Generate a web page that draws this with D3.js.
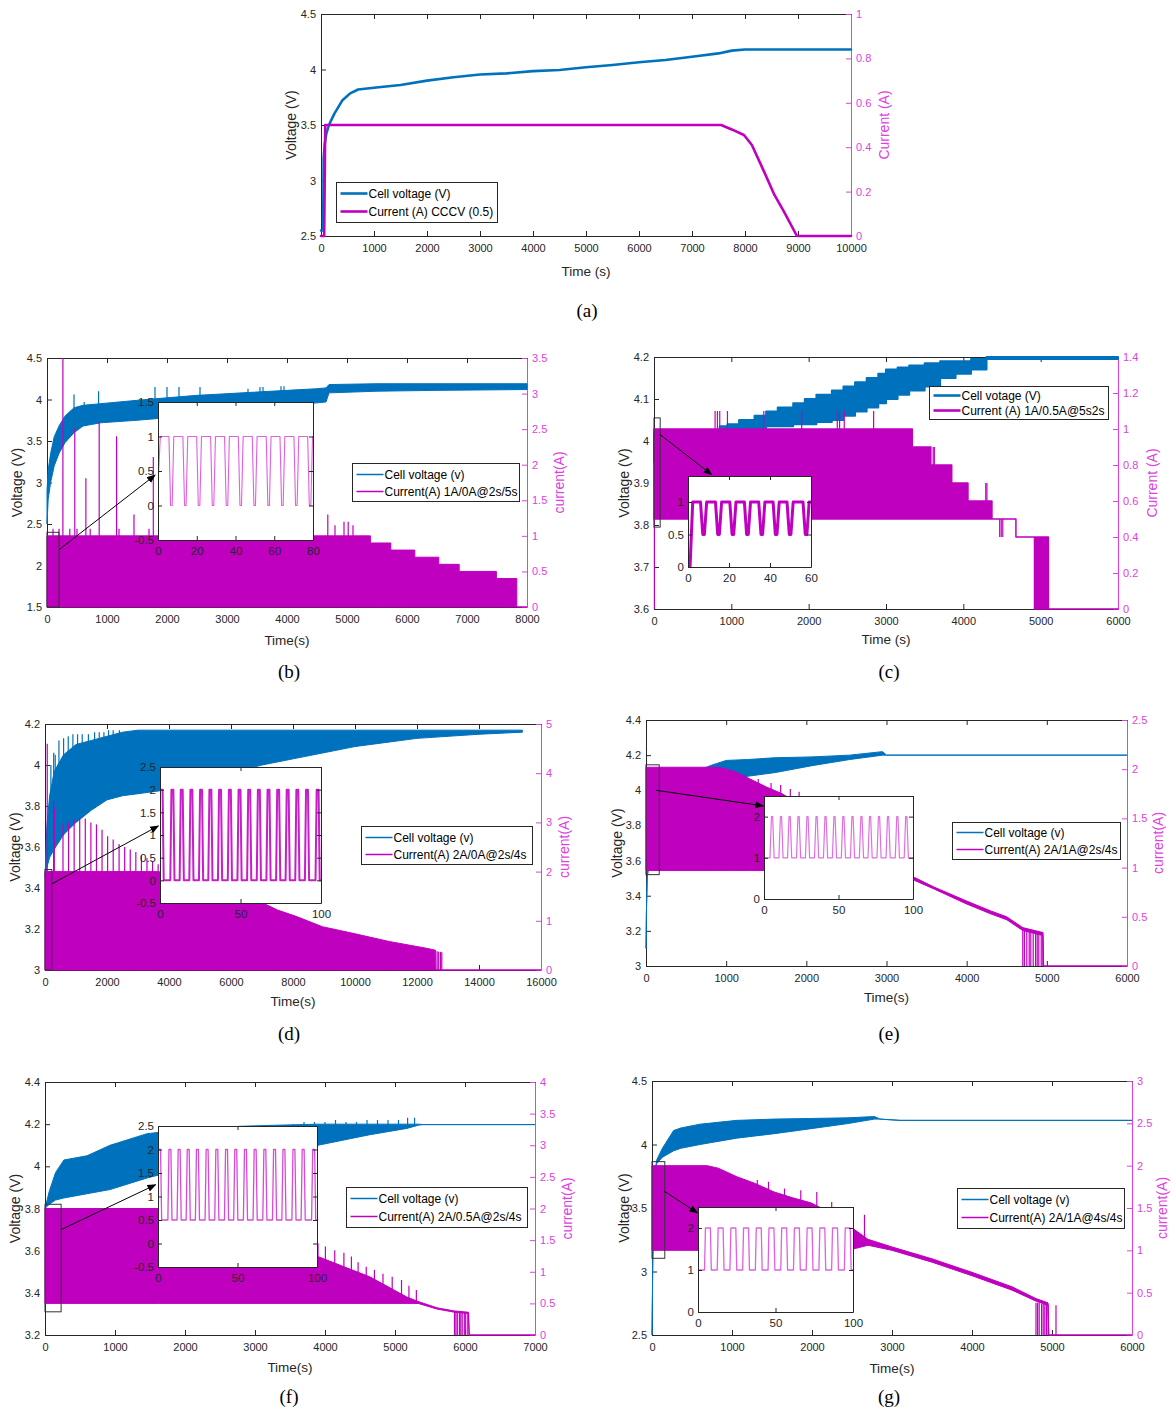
<!DOCTYPE html>
<html>
<head>
<meta charset="utf-8">
<script src="https://cdn.jsdelivr.net/npm/d3@7"></script>
<style>
  body { margin: 0; background: #fff; }
</style>
</head>
<body>
<svg id="fig" width="1171" height="1414"></svg>
<script>
// ---------- (a) CCCV 0.5 A ----------
const aVoltT = [0, 40, 50, 70, 100, 150, 250, 400, 550, 700, 1000, 1500, 2000, 2500, 3000, 3500, 4000, 4500, 5000, 5500, 6000, 6500, 7000, 7500, 7750, 8000, 10000];
const aVolt = [2.55, 2.55, 3.2, 3.33, 3.42, 3.5, 3.6, 3.72, 3.785, 3.82, 3.835, 3.86, 3.9, 3.93, 3.955, 3.965, 3.985, 3.995, 4.02, 4.04, 4.065, 4.085, 4.115, 4.145, 4.17, 4.18, 4.18];
const aCurT = [0, 60, 80, 7550, 7750, 7980, 8130, 8360, 8545, 8735, 8980, 10000];
const aCur = [0, 0, 0.5, 0.5, 0.48, 0.455, 0.41, 0.29, 0.19, 0.11, 0, 0];

// ---------- (b) 1A/0A ----------
const bVoltT = [0, 20, 60, 120, 200, 300, 450, 600, 900, 1500, 2000, 2500, 3000, 3500, 4000, 4500, 4650, 4700, 5500, 6500, 8000];
const bVoltHi = [2.9, 3.15, 3.35, 3.55, 3.68, 3.8, 3.9, 3.93, 3.95, 3.99, 4.02, 4.05, 4.07, 4.09, 4.11, 4.13, 4.14, 4.18, 4.19, 4.19, 4.19];
const bVoltLo = [2.5, 2.8, 3.0, 3.2, 3.35, 3.48, 3.6, 3.68, 3.72, 3.75, 3.78, 3.82, 3.86, 3.9, 3.93, 3.96, 3.97, 4.08, 4.1, 4.11, 4.12];
const bVoltSpikeT = [450, 620, 860, 1800, 2000, 2200, 2550, 3350, 3550, 3600, 3900, 3950];
const bVoltSpikeV = [4.06, 3.97, 4.1, 4.15, 4.15, 4.15, 4.15, 4.13, 4.15, 4.15, 4.16, 4.16];
const bCurT = [0, 5390, 5730, 6130, 6530, 6870, 7490, 7830, 8000];
const bCurHi = [1, 0.9, 0.8, 0.7, 0.6, 0.5, 0.4, 0, 0];
const bCurLo = [0, 0, 0, 0, 0, 0, 0, 0, 0];
const bCurSpikeT = [100, 200, 265, 380, 463, 500, 648, 720, 870, 1160, 1200, 1450, 1700, 1772, 2100, 2300, 2600, 4680, 4800, 4950, 5020, 5100];
const bCurSpikeV = [1.1, 1.1, 3.5, 1.1, 2.51, 1.1, 1.81, 1.1, 2.6, 2.4, 1.1, 1.3, 1.1, 2.11, 1.1, 1.1, 1.2, 1.3, 1.15, 1.2, 1.2, 1.15];
const bInsetDips = [6.9, 14.1, 21.2, 28.4, 35.6, 42.7, 49.9, 57.1, 64.2, 71.4, 78.5];
const bInsetLead = [[0, 0.3], [1.2, 1]];

// ---------- (c) 1A/0.5A ----------
const cVoltT = [0, 850, 950, 1100, 1300, 1450, 1600, 1800, 1950, 2100, 2300, 2450, 2600, 2750, 2900, 3000, 3150, 3300, 3500, 3700, 3900, 4100, 4300, 6000];
const cVoltHi = [4.02, 4.035, 4.04, 4.05, 4.06, 4.07, 4.08, 4.09, 4.1, 4.11, 4.12, 4.13, 4.14, 4.15, 4.16, 4.17, 4.175, 4.18, 4.185, 4.19, 4.19, 4.195, 4.2, 4.195];
const cVoltLo = [3.95, 4.03, 4.03, 4.03, 4.03, 4.035, 4.035, 4.04, 4.04, 4.045, 4.05, 4.06, 4.07, 4.08, 4.09, 4.1, 4.11, 4.12, 4.13, 4.15, 4.16, 4.17, 4.195, 4.195];
const cCurT = [0, 3340, 3580, 3850, 4060, 4370, 4680, 4920, 5100, 6000];
const cCurHi = [1, 0.9, 0.8, 0.7, 0.6, 0.5, 0.4, 0.4, 0, 0];
const cCurLo = [0.5, 0.5, 0.5, 0.5, 0.5, 0.5, 0.4, 0, 0, 0];
const cCurSpikeT = [5, 790, 820, 850, 950, 1420, 1910, 2370, 2400, 2460, 2840, 3610, 3625, 4290, 4305, 4470, 4490, 4510];
const cCurSpikeV = [0, 1.1, 1.1, 1.1, 1.1, 1.1, 1.1, 1.1, 1.1, 1.1, 1.1, 0.9, 0.9, 0.7, 0.7, 0.4, 0.4, 0.4];
const cInsetDips = [7.6, 14.9, 21.9, 29.0, 36.0, 43.0, 49.8, 57.6];
const cInsetLead = [[0, 0], [1, 0], [2.3, 1]];

// ---------- (d) 2A/0A ----------
const dVoltT = [0, 60, 150, 300, 600, 1000, 1500, 2000, 2500, 3000, 4000, 5000, 6000, 7000, 8000, 9000, 10000, 11000, 12000, 13000, 14000, 15400];
const dVoltHi = [3.45, 3.7, 3.85, 3.97, 4.05, 4.1, 4.12, 4.14, 4.16, 4.17, 4.17, 4.17, 4.17, 4.17, 4.17, 4.17, 4.17, 4.17, 4.17, 4.17, 4.17, 4.17];
const dVoltLo = [3.45, 3.5, 3.55, 3.59, 3.66, 3.72, 3.78, 3.83, 3.85, 3.86, 3.88, 3.92, 3.96, 4.0, 4.03, 4.06, 4.09, 4.11, 4.13, 4.14, 4.15, 4.16];
const dVoltSpikeT = [190, 280, 330, 450, 600, 750, 900, 1050, 1200, 1400, 1600, 1750, 1900, 2050, 2200, 2400];
const dVoltSpikeV = [4.0, 4.06, 4.05, 4.12, 4.13, 4.14, 4.15, 4.15, 4.15, 4.15, 4.16, 4.16, 4.16, 4.17, 4.17, 4.17];
const dCurT = [0, 3650, 4500, 5700, 6900, 7500, 8100, 8950, 9900, 11100, 12320, 12600, 12610, 16000];
const dCurHi = [2.0, 2.0, 1.9, 1.65, 1.4, 1.22, 1.09, 0.88, 0.75, 0.58, 0.44, 0.4, 0, 0];
const dCurLo = [0, 0, 0, 0, 0, 0, 0, 0, 0, 0, 0, 0, 0, 0];
const dCurSpikeT = [72, 277, 300, 580, 760, 940, 1120, 1300, 1480, 1660, 1840, 2020, 2200, 2390, 2570, 2750, 2930, 3110, 3290, 3470, 3650];
const dCurSpikeV = [4.6, 3.44, 3.3, 2.97, 3.0, 3.06, 3.1, 3.08, 3.0, 2.96, 2.85, 2.72, 2.65, 2.56, 2.5, 2.45, 2.4, 2.33, 2.27, 2.2, 2.15];
const dEndT = [12650, 12700, 12760, 12800];
const dEndV = [0.38, 0.37, 0.37, 0.36];
const dInsetPeaks = [7.7, 13.5, 19.5, 25.5, 31.3, 37.3, 43.4, 49.4, 55.4, 61.4, 67.4, 73.4, 79.3, 85.3, 91.3, 97.9];
const dInsetLead = [[0, 2], [1.6, 2], [2.3, 0]];

// ---------- (e) 2A/1A ----------
const eVoltT = [0, 5, 15, 30, 100, 300, 600, 800, 1000, 1270, 1600, 2070, 2540, 2950, 3000, 3050, 6000];
const eVoltHi = [3.1, 3.3, 3.5, 3.6, 3.8, 3.95, 4.1, 4.14, 4.17, 4.175, 4.185, 4.19, 4.2, 4.22, 4.2, 4.2, 4.2];
const eVoltLo = [3.1, 3.3, 3.5, 3.55, 3.6, 3.7, 3.9, 4.0, 4.05, 4.08, 4.1, 4.14, 4.175, 4.2, 4.2, 4.2, 4.2];
const eCurT = [0, 900, 1100, 1300, 1500, 1700, 2000, 2400, 2800, 3100, 3350, 3600, 4000, 4300, 4500, 4700, 4950, 4960, 6000];
const eCurHi = [2.02, 2.02, 1.98, 1.9, 1.82, 1.75, 1.6, 1.35, 1.1, 0.95, 0.9, 0.8, 0.66, 0.56, 0.5, 0.39, 0.34, 0, 0];
const eCurLo = [0.97, 0.97, 0.97, 0.97, 0.97, 0.97, 0.97, 0.97, 0.97, 0.92, 0.87, 0.78, 0.63, 0.53, 0.47, 0.36, 0.31, 0, 0];
const eCurSpikeT = [1240, 1400, 1560, 1680, 1800, 1910];
const eCurSpikeV = [1.95, 1.9, 1.86, 1.84, 1.8, 1.77];
const eEndT = [4700, 4720, 4750, 4780, 4800, 4830, 4860, 4880, 4900, 4930, 4950];
const eEndV = [0.36, 0.36, 0.35, 0.35, 0.35, 0.34, 0.34, 0.34, 0.34, 0.34, 0.34];
const eInsetPeaks = [5.4, 11.4, 17.2, 23.2, 29.2, 35.3, 41.3, 47.3, 53.3, 59.4, 65.4, 71.2, 77.2, 83.3, 89.5, 95.5];
const eInsetLead = [[0, 1]];

// ---------- (f) 2A/0.5A ----------
const fVoltT = [0, 60, 150, 270, 600, 930, 1460, 2000, 2800, 3300, 3900, 4640, 5170, 5330, 5400, 7000];
const fVoltHi = [3.8, 3.88, 3.97, 4.03, 4.05, 4.1, 4.155, 4.175, 4.19, 4.195, 4.2, 4.2, 4.2, 4.2, 4.198, 4.198];
const fVoltLo = [3.8, 3.82, 3.84, 3.85, 3.87, 3.89, 3.945, 3.99, 4.04, 4.07, 4.1, 4.15, 4.18, 4.195, 4.198, 4.198];
const fVoltSpikeT = [3550, 3700, 3850, 4000, 4150, 4300, 4450, 4600, 4750, 4900, 5050, 5180, 5280];
const fVoltSpikeV = [4.2, 4.21, 4.21, 4.21, 4.22, 4.21, 4.21, 4.22, 4.22, 4.22, 4.22, 4.23, 4.23];
const fCurT = [0, 1620, 2500, 3300, 3900, 4640, 5170, 5330, 5600, 5850, 6050, 6060, 7000];
const fCurHi = [2.0, 2.0, 1.75, 1.45, 1.24, 0.92, 0.6, 0.53, 0.43, 0.38, 0.36, 0, 0];
const fCurLo = [0.5, 0.5, 0.5, 0.5, 0.5, 0.5, 0.5, 0.5, 0.41, 0.36, 0.34, 0, 0];
const fCurSpikeT = [3900, 4006, 4139, 4270, 4377, 4473, 4589, 4706, 4828, 4960, 5093, 5199, 5305];
const fCurSpikeV = [1.45, 1.4, 1.34, 1.3, 1.24, 1.15, 1.08, 1.03, 0.97, 0.92, 0.87, 0.78, 0.71];
const fEndT = [5850, 5870, 5890, 5920, 5940, 5960, 5990, 6010, 6040];
const fEndV = [0.37, 0.37, 0.37, 0.36, 0.36, 0.36, 0.36, 0.36, 0.35];
const fInsetPeaks = [7.5, 13.3, 19.0, 24.8, 30.9, 37.0, 43.1, 48.9, 55.0, 61.1, 67.2, 73.3, 79.2, 85.5, 91.3, 97.9];
const fInsetLead = [[0, 2], [1.6, 2], [2.3, 0.5]];

// ---------- (g) 2A/1A 4s/4s ----------
const gVoltT = [0, 10, 40, 60, 130, 270, 360, 600, 1060, 1525, 1990, 2450, 2780, 2850, 3100, 6000];
const gVoltHi = [2.5, 3.1, 3.8, 3.88, 3.97, 4.11, 4.13, 4.16, 4.19, 4.2, 4.205, 4.21, 4.22, 4.2, 4.19, 4.19];
const gVoltLo = [2.5, 3.1, 3.8, 3.85, 3.9, 3.95, 3.97, 4.0, 4.05, 4.085, 4.125, 4.165, 4.2, 4.2, 4.19, 4.19];
const gCurT = [0, 690, 830, 1060, 1290, 1525, 1760, 1990, 2220, 2450, 2700, 3000, 3500, 4000, 4500, 4800, 4950, 4960, 6000];
const gCurHi = [2.0, 2.0, 1.97, 1.87, 1.79, 1.69, 1.62, 1.56, 1.45, 1.3, 1.13, 1.04, 0.9, 0.74, 0.57, 0.43, 0.38, 0, 0];
const gCurLo = [1.0, 1.0, 1.0, 1.0, 1.0, 1.0, 1.0, 1.0, 1.0, 1.0, 1.06, 1.0, 0.86, 0.7, 0.53, 0.4, 0.35, 0, 0];
const gCurSpikeT = [1316, 1456, 1656, 1860, 2060, 2246, 2656];
const gCurSpikeV = [1.83, 1.81, 1.73, 1.71, 1.69, 1.57, 1.42];
const gEndT = [4800, 4820, 4840, 4870, 4890, 4910, 4930, 4950, 5050];
const gEndV = [0.38, 0.38, 0.38, 0.37, 0.37, 0.37, 0.37, 0.37, 0.35];
const gInsetPeaks = [6.4, 14.6, 22.8, 31.0, 39.2, 47.4, 55.6, 63.8, 72.0, 80.2, 88.4, 96.6];
const gInsetLead = [[0, 1]];

// ---------- ticks and texts ----------
const aTimeTicks = [0, 1000, 2000, 3000, 4000, 5000, 6000, 7000, 8000, 9000, 10000];
const aVoltTicks = [2.5, 3, 3.5, 4, 4.5];
const aCurTicks = [0, 0.2, 0.4, 0.6, 0.8, 1];
const bTimeTicks = [0, 1000, 2000, 3000, 4000, 5000, 6000, 7000, 8000];
const bVoltTicks = [1.5, 2, 2.5, 3, 3.5, 4, 4.5];
const bCurTicks = [0, 0.5, 1, 1.5, 2, 2.5, 3, 3.5];
const cTimeTicks = [0, 1000, 2000, 3000, 4000, 5000, 6000];
const cVoltTicks = [3.6, 3.7, 3.8, 3.9, 4, 4.1, 4.2];
const cCurTicks = [0, 0.2, 0.4, 0.6, 0.8, 1, 1.2, 1.4];
const dTimeTicks = [0, 2000, 4000, 6000, 8000, 10000, 12000, 14000, 16000];
const dVoltTicks = [3, 3.2, 3.4, 3.6, 3.8, 4, 4.2];
const dCurTicks = [0, 1, 2, 3, 4, 5];
const eTimeTicks = [0, 1000, 2000, 3000, 4000, 5000, 6000];
const eVoltTicks = [3, 3.2, 3.4, 3.6, 3.8, 4, 4.2, 4.4];
const eCurTicks = [0, 0.5, 1, 1.5, 2, 2.5];
const fTimeTicks = [0, 1000, 2000, 3000, 4000, 5000, 6000, 7000];
const fVoltTicks = [3.2, 3.4, 3.6, 3.8, 4, 4.2, 4.4];
const fCurTicks = [0, 0.5, 1, 1.5, 2, 2.5, 3, 3.5, 4];
const gTimeTicks = [0, 1000, 2000, 3000, 4000, 5000, 6000];
const gVoltTicks = [2.5, 3, 3.5, 4, 4.5];
const gCurTicks = [0, 0.5, 1, 1.5, 2, 2.5, 3];

const aLegend = ['Cell voltage (V)', 'Current (A) CCCV (0.5)'];
const bLegend = ['Cell voltage (v)', 'Current(A) 1A/0A@2s/5s'];
const cLegend = ['Cell votage (V)', 'Current (A) 1A/0.5A@5s2s'];
const dLegend = ['Cell voltage (v)', 'Current(A) 2A/0A@2s/4s'];
const eLegend = ['Cell voltage (v)', 'Current(A) 2A/1A@2s/4s'];
const fLegend = ['Cell voltage (v)', 'Current(A) 2A/0.5A@2s/4s'];
const gLegend = ['Cell voltage (v)', 'Current(A) 2A/1A@4s/4s'];

// ---------- styling ----------
const FONT = '"Liberation Sans", Arial, sans-serif';
const BLUE = '#0072BD';
const MAG = '#BF00BF';
const RAXIS = '#E040E0';
const INK = '#262626';
const fmt = v => String(+v.toFixed(3));

const svg = d3.select('#fig');
const defs = svg.append('defs');
defs.append('marker')
    .attr('id', 'arrowhead')
    .attr('viewBox', '0 0 10 10')
    .attr('refX', 9).attr('refY', 5)
    .attr('markerWidth', 9).attr('markerHeight', 9)
    .attr('orient', 'auto')
  .append('path')
    .attr('d', 'M0,1 L10,5 L0,9 Z')
    .attr('fill', '#000');

const panels = [
  { id: 'a', box: [321, 14, 851, 236], xDomain: [0, 10000], vDomain: [2.5, 4.5], iDomain: [0, 1],
    ticks: [aTimeTicks, aVoltTicks, aCurTicks],
    volt: { t: aVoltT, hi: aVolt, lo: aVolt, width: 2.6 },
    cur: { t: aCurT, hi: aCur, lo: aCur, width: 2.6 },
    text: { x: 'Time (s)', v: 'Voltage (V)', i: 'Current (A)', vx: 291, ix: 884, xy: 271, tag: '(a)', tx: 587, ty: 310 },
    legend: { x: 336, y: 182, w: 161, h: 40, labels: aLegend, lw: 2.6 } },
  { id: 'b', box: [47, 358, 527, 607], xDomain: [0, 8000], vDomain: [1.5, 4.5], iDomain: [0, 3.5],
    ticks: [bTimeTicks, bVoltTicks, bCurTicks],
    volt: { t: bVoltT, hi: bVoltHi, lo: bVoltLo, width: 1, spikeT: bVoltSpikeT, spikeV: bVoltSpikeV },
    cur: { t: bCurT, hi: bCurHi, lo: bCurLo, width: 1, step: true, spikeT: bCurSpikeT, spikeV: bCurSpikeV },
    text: { x: 'Time(s)', v: 'Voltage (V)', i: 'current(A)', vx: 17, ix: 559, xy: 640, tag: '(b)', tx: 289, ty: 671 },
    legend: { x: 352, y: 463, w: 167, h: 38, labels: bLegend, lw: 1.5 },
    inset: { box: [158, 402, 313, 540], xDomain: [0, 80], yDomain: [-0.5, 1.5], xTicks: [0, 20, 40, 60, 80], yTicks: [-0.5, 0, 0.5, 1, 1.5],
      lead: bInsetLead, centres: bInsetDips, base: 1, peak: 0, halfTop: 0.4, halfBase: 1.25, color: '#E060E0', width: 1.1 },
    zoom: { t: [0, 200], v: [1.5, 2.4], from: [200, 2.19], to: [-1.5, 0.44] } },
  { id: 'c', box: [654, 357, 1118, 609], xDomain: [0, 6000], vDomain: [3.6, 4.2], iDomain: [0, 1.4],
    ticks: [cTimeTicks, cVoltTicks, cCurTicks],
    volt: { t: cVoltT, hi: cVoltHi, lo: cVoltLo, width: 2, step: true },
    cur: { t: cCurT, hi: cCurHi, lo: cCurLo, width: 1.5, step: true, spikeT: cCurSpikeT, spikeV: cCurSpikeV },
    text: { x: 'Time (s)', v: 'Voltage (V)', i: 'Current (A)', vx: 624, ix: 1152, xy: 639, tag: '(c)', tx: 889, ty: 671 },
    legend: { x: 929, y: 386, w: 179, h: 33, labels: cLegend, lw: 2.6 },
    inset: { box: [688, 476, 811, 567], xDomain: [0, 60], yDomain: [0, 1.4], xTicks: [0, 20, 40, 60], yTicks: [0, 0.5, 1],
      lead: cInsetLead, centres: cInsetDips, base: 1, peak: 0.5, halfTop: 0.4, halfBase: 1.5, color: '#C000C0', width: 3 },
    zoom: { t: [0, 80], v: [3.795, 4.055], from: [80, 4.015], to: [11.6, 1.42] } },
  { id: 'd', box: [45, 724, 541, 970], xDomain: [0, 16000], vDomain: [3, 4.2], iDomain: [0, 5],
    ticks: [dTimeTicks, dVoltTicks, dCurTicks],
    volt: { t: dVoltT, hi: dVoltHi, lo: dVoltLo, width: 1, spikeT: dVoltSpikeT, spikeV: dVoltSpikeV },
    cur: { t: dCurT, hi: dCurHi, lo: dCurLo, width: 1, spikeT: dCurSpikeT, spikeV: dCurSpikeV, endT: dEndT, endV: dEndV },
    text: { x: 'Time(s)', v: 'Voltage (V)', i: 'current(A)', vx: 15, ix: 564, xy: 1001, tag: '(d)', tx: 289, ty: 1033 },
    legend: { x: 361, y: 826, w: 171, h: 38, labels: dLegend, lw: 1.5 },
    inset: { box: [160, 767, 321, 903], xDomain: [0, 100], yDomain: [-0.5, 2.5], xTicks: [0, 50, 100], yTicks: [-0.5, 0, 0.5, 1, 1.5, 2, 2.5],
      lead: dInsetLead, centres: dInsetPeaks, base: 0, peak: 2, halfTop: 0.6, halfBase: 1.3, color: '#C81EC8', width: 2 },
    zoom: { t: [0, 220], v: [3.0, 3.49], from: [220, 3.42], to: [-1, 1.2] } },
  { id: 'e', box: [646, 720, 1127, 966], xDomain: [0, 6000], vDomain: [3, 4.4], iDomain: [0, 2.5],
    ticks: [eTimeTicks, eVoltTicks, eCurTicks],
    volt: { t: eVoltT, hi: eVoltHi, lo: eVoltLo, width: 1 },
    cur: { t: eCurT, hi: eCurHi, lo: eCurLo, width: 1, spikeT: eCurSpikeT, spikeV: eCurSpikeV, endT: eEndT, endV: eEndV },
    text: { x: 'Time(s)', v: 'Voltage (V)', i: 'current(A)', vx: 617, ix: 1158, xy: 997, tag: '(e)', tx: 889, ty: 1033 },
    legend: { x: 952, y: 822, w: 168, h: 37, labels: eLegend, lw: 1.5 },
    inset: { box: [764, 796, 913, 899], xDomain: [0, 100], yDomain: [0, 2.5], xTicks: [0, 50, 100], yTicks: [0, 1, 2],
      lead: eInsetLead, centres: eInsetPeaks, base: 1, peak: 2, halfTop: 0.4, halfBase: 1.4, color: '#E070E0', width: 1.2 },
    zoom: { t: [0, 165], v: [3.52, 4.145], from: [125, 4.0], to: [-0.5, 2.26] } },
  { id: 'f', box: [45, 1082, 535, 1335], xDomain: [0, 7000], vDomain: [3.2, 4.4], iDomain: [0, 4],
    ticks: [fTimeTicks, fVoltTicks, fCurTicks],
    volt: { t: fVoltT, hi: fVoltHi, lo: fVoltLo, width: 1, spikeT: fVoltSpikeT, spikeV: fVoltSpikeV },
    cur: { t: fCurT, hi: fCurHi, lo: fCurLo, width: 1, spikeT: fCurSpikeT, spikeV: fCurSpikeV, endT: fEndT, endV: fEndV },
    text: { x: 'Time(s)', v: 'Voltage (V)', i: 'current(A)', vx: 15, ix: 567, xy: 1367, tag: '(f)', tx: 289, ty: 1396 },
    legend: { x: 346, y: 1187, w: 181, h: 40, labels: fLegend, lw: 1.5 },
    inset: { box: [158, 1126, 317, 1267], xDomain: [0, 100], yDomain: [-0.5, 2.5], xTicks: [0, 50, 100], yTicks: [-0.5, 0, 0.5, 1, 1.5, 2, 2.5],
      lead: fInsetLead, centres: fInsetPeaks, base: 0.5, peak: 2, halfTop: 0.6, halfBase: 1.3, color: '#D84AD8', width: 1.3 },
    zoom: { t: [0, 230], v: [3.31, 3.82], from: [230, 3.7], to: [-1.5, 1.25] } },
  { id: 'g', box: [652, 1081, 1132, 1335], xDomain: [0, 6000], vDomain: [2.5, 4.5], iDomain: [0, 3],
    ticks: [gTimeTicks, gVoltTicks, gCurTicks],
    volt: { t: gVoltT, hi: gVoltHi, lo: gVoltLo, width: 1 },
    cur: { t: gCurT, hi: gCurHi, lo: gCurLo, width: 1, spikeT: gCurSpikeT, spikeV: gCurSpikeV, endT: gEndT, endV: gEndV },
    text: { x: 'Time(s)', v: 'Voltage (V)', i: 'current(A)', vx: 624, ix: 1162, xy: 1368, tag: '(g)', tx: 889, ty: 1396 },
    legend: { x: 957, y: 1188, w: 167, h: 40, labels: gLegend, lw: 1.5 },
    inset: { box: [698, 1207, 853, 1312], xDomain: [0, 100], yDomain: [0, 2.5], xTicks: [0, 50, 100], yTicks: [0, 1, 2],
      lead: gInsetLead, centres: gInsetPeaks, base: 1, peak: 2, halfTop: 1.6, halfBase: 2.2, color: '#E060E0', width: 1.3 },
    zoom: { t: [0, 160], v: [3.104, 3.865], from: [160, 3.63], to: [-0.4, 2.36] } }
];

panels.forEach(drawPanel);

function envAt(ts, vs, t, step) {
  if (step) {
    const i = Math.max(0, d3.bisectRight(ts, t) - 1);
    return vs[i];
  }
  return d3.scaleLinear().domain(ts).range(vs).clamp(true)(t);
}

function styleAxis(sel, color, size) {
  sel.attr('font-family', null).attr('font-size', null);
  sel.select('.domain').attr('stroke', color).attr('stroke-width', 1);
  sel.selectAll('.tick line').attr('stroke', color);
  sel.selectAll('.tick text')
      .attr('fill', color)
      .style('font-family', FONT)
      .style('font-size', size + 'px');
}

function drawSeries(layer, x, y, s, color) {
  const idx = d3.range(s.t.length);
  const area = d3.area()
      .x(i => x(s.t[i]))
      .y0(i => y(s.lo[i]))
      .y1(i => y(s.hi[i]))
      .curve(s.step ? d3.curveStepAfter : d3.curveLinear);
  layer.append('path')
      .datum(idx)
      .attr('d', area)
      .attr('fill', color)
      .attr('stroke', color)
      .attr('stroke-width', s.width)
      .attr('stroke-linejoin', 'round');

  if (s.spikeT) {
    layer.append('g').selectAll('line')
      .data(s.spikeT.map((t, i) => [t, s.spikeV[i]]))
      .join('line')
        .attr('x1', d => x(d[0])).attr('x2', d => x(d[0]))
        .attr('y1', d => y(envAt(s.t, s.lo, d[0], s.step)))
        .attr('y2', d => y(d[1]))
        .attr('stroke', color)
        .attr('stroke-width', 1.2);
  }
  if (s.endT) {
    layer.append('g').selectAll('line')
      .data(s.endT.map((t, i) => [t, s.endV[i]]))
      .join('line')
        .attr('x1', d => x(d[0])).attr('x2', d => x(d[0]))
        .attr('y1', y(0)).attr('y2', d => y(d[1]))
        .attr('stroke', color)
        .attr('stroke-width', 1.2);
  }
}

function buildWave(w) {
  const pts = w.lead.slice();
  w.centres.forEach(c => {
    pts.push([c - w.halfBase, w.base], [c - w.halfTop, w.peak], [c + w.halfTop, w.peak], [c + w.halfBase, w.base]);
  });
  pts.push([w.xDomain[1], w.base]);
  return pts;
}

function drawPanel(p) {
  const [L, T, R, B] = p.box;
  const g = svg.append('g').attr('class', 'panel-' + p.id);
  const x = d3.scaleLinear().domain(p.xDomain).range([L, R]);
  const yV = d3.scaleLinear().domain(p.vDomain).range([B, T]);
  const yI = d3.scaleLinear().domain(p.iDomain).range([B, T]);
  const [xTicks, vTicks, iTicks] = p.ticks;

  // axes (drawn first, data sits on top as in the source figure)
  g.append('g').attr('transform', `translate(0,${B})`)
      .call(d3.axisBottom(x).tickValues(xTicks).tickFormat(fmt).tickSize(-5).tickSizeOuter(0).tickPadding(8))
      .call(styleAxis, INK, 11);
  g.append('g').attr('transform', `translate(0,${T})`)
      .call(d3.axisTop(x).tickValues(xTicks).tickFormat('').tickSize(-5).tickSizeOuter(0))
      .call(styleAxis, INK, 11);
  g.append('g').attr('transform', `translate(${L},0)`)
      .call(d3.axisLeft(yV).tickValues(vTicks).tickFormat(fmt).tickSize(-5).tickSizeOuter(0).tickPadding(5))
      .call(styleAxis, INK, 11);
  g.append('g').attr('transform', `translate(${R},0)`)
      .call(d3.axisRight(yI).tickValues(iTicks).tickFormat(fmt).tickSize(-5).tickSizeOuter(0).tickPadding(5))
      .call(styleAxis, RAXIS, 11);

  // axis titles
  g.append('text')
      .attr('transform', `translate(${p.text.vx},${(T + B) / 2}) rotate(-90)`)
      .attr('text-anchor', 'middle').attr('dominant-baseline', 'central')
      .style('font-family', FONT).style('font-size', '14px').attr('fill', INK)
      .text(p.text.v);
  g.append('text')
      .attr('transform', `translate(${p.text.ix},${(T + B) / 2}) rotate(-90)`)
      .attr('text-anchor', 'middle').attr('dominant-baseline', 'central')
      .style('font-family', FONT).style('font-size', '14px').attr('fill', RAXIS)
      .text(p.text.i);
  g.append('text')
      .attr('x', (L + R) / 2).attr('y', p.text.xy)
      .attr('text-anchor', 'middle').attr('dominant-baseline', 'central')
      .style('font-family', FONT).style('font-size', '13.5px').attr('fill', INK)
      .text(p.text.x);
  g.append('text')
      .attr('x', p.text.tx).attr('y', p.text.ty)
      .attr('text-anchor', 'middle').attr('dominant-baseline', 'central')
      .style('font-family', '"Liberation Serif", "Times New Roman", serif').style('font-size', '19px').attr('fill', '#000')
      .text(p.text.tag);

  // data
  const clipId = 'clip-' + p.id;
  defs.append('clipPath').attr('id', clipId)
    .append('rect')
      .attr('x', L - 2).attr('y', T - 2)
      .attr('width', R - L + 4).attr('height', B - T + 4);
  const plot = g.append('g').attr('clip-path', `url(#${clipId})`);
  drawSeries(plot, x, yV, p.volt, BLUE);
  drawSeries(plot, x, yI, p.cur, MAG);

  // zoomed inset
  if (p.inset) drawInset(g, p.inset);

  // legend
  const lg = p.legend;
  const leg = g.append('g').attr('transform', `translate(${lg.x + 0.5},${lg.y + 0.5})`);
  leg.append('rect')
      .attr('width', lg.w).attr('height', lg.h)
      .attr('fill', '#fff').attr('stroke', INK).attr('stroke-width', 1);
  const rowH = lg.h / 2;
  [BLUE, MAG].forEach((c, i) => {
    const cy = Math.round(rowH * (i + 0.5) + (i === 0 ? 1 : -1));
    leg.append('line')
        .attr('x1', 4).attr('x2', 31).attr('y1', cy).attr('y2', cy)
        .attr('stroke', c).attr('stroke-width', lg.lw);
    leg.append('text')
        .attr('x', 32).attr('y', cy)
        .attr('dominant-baseline', 'central')
        .style('font-family', FONT).style('font-size', '12px').attr('fill', '#000')
        .text(lg.labels[i]);
  });

  // zoom window and arrow
  if (p.zoom) {
    const z = p.zoom;
    g.append('rect')
        .attr('x', x(z.t[0])).attr('y', yV(z.v[1]))
        .attr('width', x(z.t[1]) - x(z.t[0])).attr('height', yV(z.v[0]) - yV(z.v[1]))
        .attr('fill', 'none').attr('stroke', '#333').attr('stroke-width', 1);
    const ix = d3.scaleLinear().domain(p.inset.xDomain).range([p.inset.box[0], p.inset.box[2]]);
    const iy = d3.scaleLinear().domain(p.inset.yDomain).range([p.inset.box[3], p.inset.box[1]]);
    g.append('line')
        .attr('x1', x(z.from[0])).attr('y1', yV(z.from[1]))
        .attr('x2', ix(z.to[0])).attr('y2', iy(z.to[1]))
        .attr('stroke', '#000').attr('stroke-width', 1)
        .attr('marker-end', 'url(#arrowhead)');
  }
}

function drawInset(g, w) {
  const [L, T, R, B] = w.box;
  const ig = g.append('g');
  const ix = d3.scaleLinear().domain(w.xDomain).range([L, R]);
  const iy = d3.scaleLinear().domain(w.yDomain).range([B, T]);
  ig.append('rect')
      .attr('x', L).attr('y', T).attr('width', R - L).attr('height', B - T)
      .attr('fill', '#fff');

  const clipId = 'inset-clip-' + L + '-' + T;
  defs.append('clipPath').attr('id', clipId)
    .append('rect').attr('x', L).attr('y', T).attr('width', R - L).attr('height', B - T);
  ig.append('path')
      .datum(buildWave(w))
      .attr('clip-path', `url(#${clipId})`)
      .attr('d', d3.line().x(d => ix(d[0])).y(d => iy(d[1])))
      .attr('fill', 'none')
      .attr('stroke', w.color)
      .attr('stroke-width', w.width)
      .attr('stroke-linejoin', 'round');

  ig.append('g').attr('transform', `translate(0,${B})`)
      .call(d3.axisBottom(ix).tickValues(w.xTicks).tickFormat(fmt).tickSize(-4).tickSizeOuter(0).tickPadding(7))
      .call(styleAxis, INK, 11.5);
  ig.append('g').attr('transform', `translate(0,${T})`)
      .call(d3.axisTop(ix).tickValues(w.xTicks).tickFormat('').tickSize(-4).tickSizeOuter(0))
      .call(styleAxis, INK, 11.5);
  ig.append('g').attr('transform', `translate(${L},0)`)
      .call(d3.axisLeft(iy).tickValues(w.yTicks).tickFormat(fmt).tickSize(-4).tickSizeOuter(0).tickPadding(4))
      .call(styleAxis, INK, 11.5);
  ig.append('g').attr('transform', `translate(${R},0)`)
      .call(d3.axisRight(iy).tickValues(w.yTicks).tickFormat('').tickSize(-4).tickSizeOuter(0))
      .call(styleAxis, INK, 11.5);
}
</script>
</body>
</html>
